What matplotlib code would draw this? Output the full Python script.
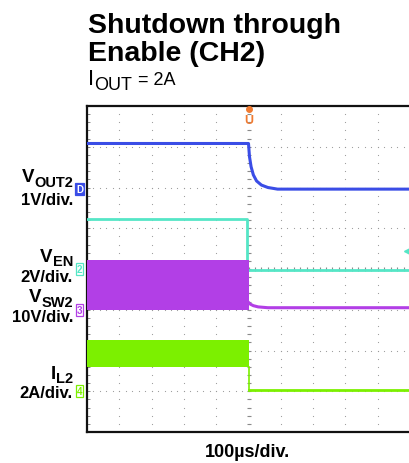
import numpy as np
import matplotlib
matplotlib.use("Agg")
import matplotlib.pyplot as plt

plt.rcParams['font.family'] = ['Liberation Sans', 'DejaVu Sans']

# ---- data (time in us, trigger at 0; 100 us/div, 10 divisions) ----
# VOUT2 (V), 1 V/div
vout_t = [-500, 0, 3, 8, 15, 25, 40, 60, 90, 500]
vout_v = [1.12, 1.12, 0.80, 0.55, 0.35, 0.20, 0.10, 0.04, 0.0, 0.0]
# VEN (V), 2 V/div
ven_t = [-500, -4, -4, 500]
ven_v = [2.5, 2.5, 0.0, 0.0]
ven_trig_level = 0.95
# VSW2 (V), 10 V/div: switching band before shutdown, then settling trace
vsw_band_t = [-500, 0]
vsw_band_low = [0.0, 0.0]
vsw_band_high = [12.3, 12.3]
vsw_t = [0, 5, 15, 30, 60, 100, 500]
vsw_v = [1.8, 1.4, 1.0, 0.7, 0.5, 0.5, 0.5]
# IL2 (A), 2 A/div: ripple band before shutdown, then zero
il_band_t = [-500, 0]
il_band_low = [1.13, 1.13]
il_band_high = [2.45, 2.45]
il_t = [0, 500]
il_v = [0.0, 0.0]

# channel scale (units per div) and ground offsets (div from bottom)
scale = {'vout': 1.0, 'ven': 2.0, 'vsw': 10.0, 'il': 2.0}
ground = {'vout': 5.96, 'ven': 3.97, 'vsw': 3.0, 'il': 1.03}

c_blue = '#3a4de6'
c_cyan = '#55e6c6'
c_purple = '#b23fe6'
c_green = '#7cf000'
c_orange = '#f07a30'

W, H = 409, 464
fig = plt.figure(figsize=(W / 100, H / 100), dpi=100)
renderer = fig.canvas.get_renderer()

def fx(x):
    return x / W

def fy(y):
    return 1 - y / H

left, right, top, bottom = 87, 410, 107, 433
ax = fig.add_axes([fx(left), fy(bottom), (right - left) / W, (bottom - top) / H])
ax.set_xlim(-500, 500)
ax.set_ylim(0, 8)

def dv(arr, ch):
    return np.asarray(arr) / scale[ch] + ground[ch]

# graticule dots
gx_minor = np.arange(-500, 500.01, 20)
for yv in range(1, 8):
    ax.scatter(gx_minor, np.full_like(gx_minor, yv, dtype=float), s=0.7, color='#999999', zorder=1, linewidths=0)
gy_minor = np.arange(0, 8.01, 0.2)
for xv in range(-400, 500, 100):
    ax.scatter(np.full_like(gy_minor, xv), gy_minor, s=0.7, color='#999999', zorder=1, linewidths=0)
ax.scatter(np.zeros_like(gy_minor), gy_minor, s=6, marker='_', color='#8a8a8a', zorder=1, linewidths=0.8)
ax.scatter(gx_minor, np.full_like(gx_minor, 4.0, dtype=float), s=6, marker='|', color='#8a8a8a', zorder=1, linewidths=0.8)

# traces
ax.plot(vout_t, dv(vout_v, 'vout'), color=c_blue, lw=2.2, zorder=3, solid_joinstyle='round')
ax.plot(ven_t, dv(ven_v, 'ven'), color=c_cyan, lw=2.0, zorder=3)
ax.fill_between(vsw_band_t, dv(vsw_band_low, 'vsw'), dv(vsw_band_high, 'vsw'), color=c_purple, lw=0, zorder=3)
ax.plot(vsw_t, dv(vsw_v, 'vsw'), color=c_purple, lw=2.2, zorder=3)
ax.fill_between(il_band_t, dv(il_band_low, 'il'), dv(il_band_high, 'il'), color=c_green, lw=0, zorder=3)
ax.plot(il_t, dv(il_v, 'il'), color=c_green, lw=2.0, zorder=3)
ax.plot([0, 0], [dv(il_v, 'il')[0], dv(il_band_low, 'il')[0]], color=c_green, lw=1.2, zorder=3)

# trigger markers
ax.plot([0], [7.93], marker='o', ms=4, color=c_orange, clip_on=False, zorder=5)
ax.text(0, 7.66, 'U', color=c_orange, fontsize=9, fontweight='bold', ha='center', va='center', zorder=5)
ax.plot([492], [dv([ven_trig_level], 'ven')[0]], marker='<', ms=5, color=c_cyan, zorder=5, clip_on=False)

for s in ['top', 'bottom', 'left']:
    ax.spines[s].set_linewidth(1.6)
    ax.spines[s].set_color('#111111')
ax.spines['right'].set_visible(False)
ax.set_xticks([])
ax.set_yticks(np.arange(0, 8.01, 0.2))
ax.tick_params(axis='y', direction='in', length=2.5, width=0.6, color='#777777', labelleft=False)

# channel ground markers
def chbox(y, txt, col, filled=False):
    fig.text(fx(79.5), fy(y), txt, color='white' if filled else col, fontsize=7, fontweight='bold',
             ha='center', va='center',
             bbox=dict(boxstyle='square,pad=0.12', fc=col if filled else 'white', ec=col, lw=0.9))

chbox(190, 'D', c_blue, filled=True)
chbox(270, '2', c_cyan)
chbox(311, '3', c_purple)
chbox(392, '4', c_green)

def width_px(t):
    return t.get_window_extent(renderer).width

def sublabel(x, yb, main, sub, fs_main, fs_sub, drop, align='right', tail=None, fs_tail=None, weight='bold'):
    tm = fig.text(0, 0, main, fontsize=fs_main, fontweight=weight, va='baseline', ha='left')
    ts = fig.text(0, 0, sub, fontsize=fs_sub, fontweight=weight, va='baseline', ha='left')
    wm, ws = width_px(tm), width_px(ts)
    if align == 'right':
        x0 = x - wm - ws
    else:
        x0 = x
    tm.set_position((fx(x0), fy(yb)))
    ts.set_position((fx(x0 + wm), fy(yb + drop)))
    if tail:
        fig.text(fx(x0 + wm + ws + 1), fy(yb), tail, fontsize=fs_tail, fontweight=weight,
                 va='baseline', ha='left')

# titles
fig.text(fx(88), fy(33), 'Shutdown through', fontsize=20.5, fontweight='bold', ha='left', va='baseline')
fig.text(fx(88), fy(61), 'Enable (CH2)', fontsize=20.5, fontweight='bold', ha='left', va='baseline')
sublabel(88, 85, 'I', 'OUT', 16, 13, 5, align='left', tail=' = 2A', fs_tail=13, weight='normal')

# channel labels
xr = 73
fm, fsub, fl = 13.5, 10.5, 12
kw = dict(fontsize=fl, fontweight='bold', ha='right', va='baseline')
sublabel(xr, 182, 'V', 'OUT2', fm, fsub, 5)
fig.text(fx(xr), fy(205), '1V/div.', **kw)
sublabel(xr, 262, 'V', 'EN', fm, fsub, 4)
fig.text(fx(xr), fy(282), '2V/div.', **kw)
sublabel(xr, 302, 'V', 'SW2', fm, fsub, 5)
fig.text(fx(xr), fy(322), '10V/div.', **kw)
sublabel(xr, 379, 'I', 'L2', fm, fsub, 4)
fig.text(fx(xr), fy(398), '2A/div.', **kw)

fig.text(fx(248), fy(457), '100µs/div.', fontsize=13, fontweight='bold', ha='center', va='baseline')

fig.savefig('out.png', dpi=100)
